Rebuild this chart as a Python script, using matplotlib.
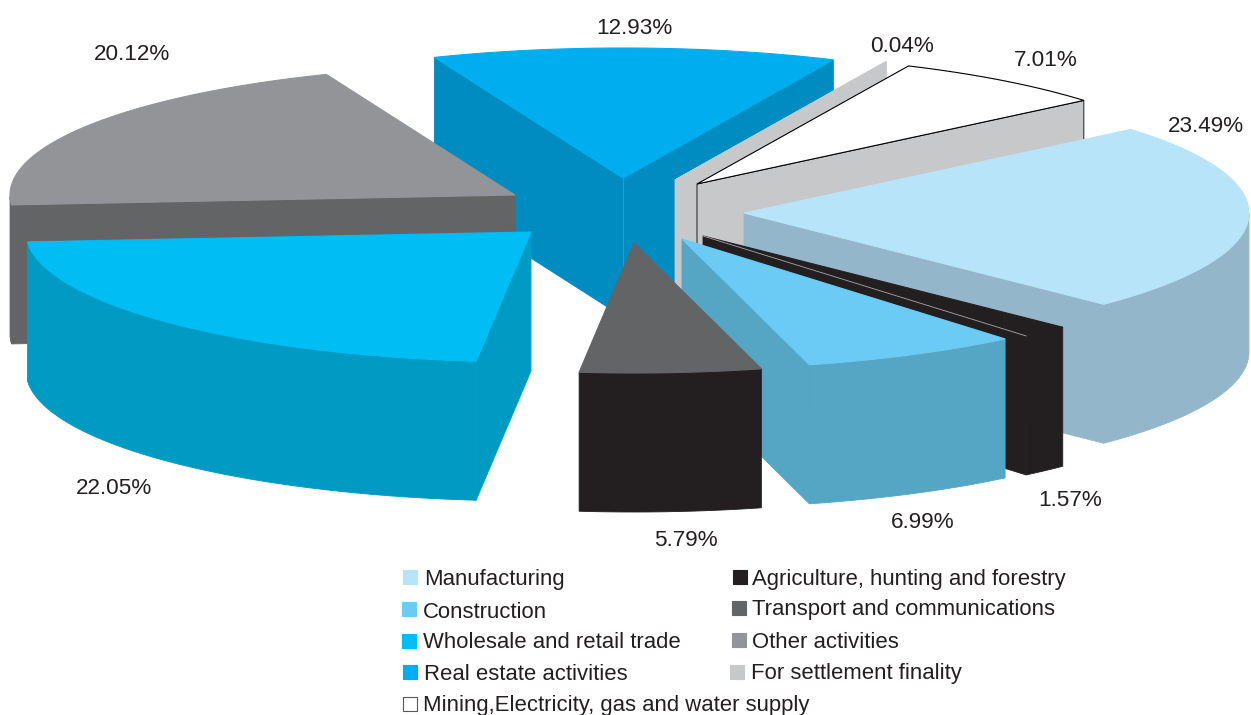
import matplotlib
matplotlib.use('Agg')
import matplotlib.pyplot as plt
import numpy as np

plt.rcParams['font.family'] = ['Liberation Sans', 'DejaVu Sans']

# data, clockwise round the pie starting at the Manufacturing slice
sectors = ['Manufacturing', 'Agriculture, hunting and forestry', 'Construction',
           'Transport and communications', 'Wholesale and retail trade',
           'Other activities', 'Real estate activities', 'For settlement finality',
           'Mining,Electricity, gas and water supply']
shares = [23.49, 1.57, 6.99, 5.79, 22.05, 20.12, 12.93, 0.04, 7.01]

# styling per slice
top_colors = ['#b7e4f9', '#231f20', '#6bcbf4', '#636466', '#00bdf4', '#929497',
              '#00aeef', '#c7c8ca', '#ffffff']
side_colors = ['#94b6ca', '#231f20', '#55a5c5', '#231f20', '#009ac2', '#636466',
               '#008cc0', '#c7c8ca', '#c7c8ca']
# slice tips in pixels (the explosion of each slice)
tips = [(744, 213), (703, 236), (682, 239), (634, 243), (531, 232), (515, 195),
        (623, 178), (675, 180), (697, 184)]
label_pos = [(1206, 127), (1070, 500), (923, 522), (686, 540), (114, 488),
             (132, 55), (634, 29), (902, 46), (1046, 61)]
draw_order = [6, 7, 8, 5, 0, 1, 2, 3, 4]

start_angle = 50.0
rx, ry, depth = 505, 130, 139

# legend layout: sector index, square x, square y, text x, text y
legend_rows = [(0, 403, 570, 424, 580), (2, 402, 602, 423, 613), (4, 402, 634, 423, 643),
               (6, 403, 665, 424, 675), (8, 403, 697, 423, 706),
               (1, 733, 570, 752, 580), (3, 732, 601, 752, 610), (5, 732, 633, 752, 643),
               (7, 730, 665, 751, 673)]

fig = plt.figure(figsize=(12.51, 7.15), dpi=100)
ax = fig.add_axes([0, 0, 1, 1])
ax.set_xlim(0, 1251)
ax.set_ylim(715, 0)
ax.axis('off')

spans = np.array(shares) / sum(shares) * 360
starts = start_angle + np.concatenate([[0], np.cumsum(spans)[:-1]])


def rim(tip, a):
    a = np.radians(a)
    return tip[0] + rx * np.sin(a), tip[1] - ry * np.cos(a)


def face(xs, ys, color, z, edge=None, lw=0.6):
    ax.fill(xs, ys, facecolor=color, edgecolor=edge or color, linewidth=lw, zorder=z)


for rank, i in enumerate(draw_order):
    tip = tips[i]
    t0, t1 = starts[i], starts[i] + spans[i]
    z = 2 + rank
    outline = 'black' if i == 8 else None

    # radial walls that face the viewer
    for t, seen in [(t0, np.sin(np.radians(t0)) < 0), (t1, np.sin(np.radians(t1)) > 0)]:
        if seen:
            x1, y1 = rim(tip, t)
            face([tip[0], x1, x1, tip[0]], [tip[1], y1, y1 + depth, tip[1] + depth],
                 side_colors[i], z, edge=outline)

    # curved outer wall, front half only
    ts = np.linspace(t0, t1, 80)
    ts = ts[np.cos(np.radians(ts)) < 0]
    if len(ts) > 1:
        xa, ya = rim(tip, ts)
        face(np.r_[xa, xa[::-1]], np.r_[ya, ya[::-1] + depth], side_colors[i], z)

    # top of the slice
    xa, ya = rim(tip, np.linspace(t0, t1, 80))
    face(np.r_[tip[0], xa], np.r_[tip[1], ya], top_colors[i], z, edge=outline, lw=0.8)

    # hairlines seen on the artwork
    if sectors[i].startswith('Real estate'):
        ax.plot([tip[0], tip[0]], [tip[1], tip[1] + depth], color='#29a9dc', lw=0.5, zorder=z)
    if sectors[i].startswith('Agriculture'):
        ax.plot([tip[0], xa[-1]], [tip[1], ya[-1]], color='#a6a8ab', lw=0.6, zorder=z)

for v, (x, y) in zip(shares, label_pos):
    ax.text(x, y, f'{v:.2f}%', ha='center', va='center', fontsize=16.2, color='#231f20', zorder=20)

for i, sx, sy, tx, ty in legend_rows:
    edge = '#58595b' if i == 8 else top_colors[i]
    ax.fill([sx, sx + 14, sx + 14, sx], [sy, sy, sy + 14, sy + 14], facecolor=top_colors[i],
            edgecolor=edge, linewidth=0.8, zorder=20)
    ax.text(tx, ty, sectors[i], ha='left', va='center', fontsize=15.9, color='#231f20', zorder=20)

fig.savefig('out.png', dpi=100)
